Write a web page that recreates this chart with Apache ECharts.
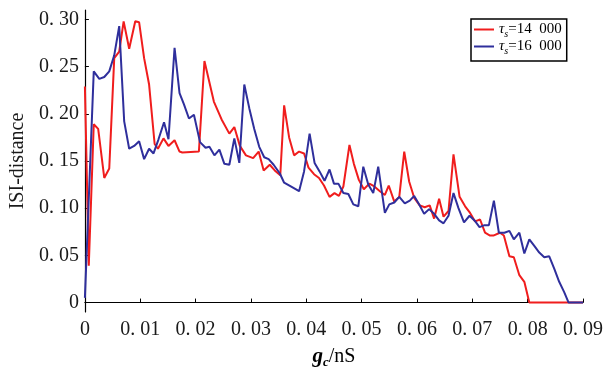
<!DOCTYPE html>
<html>
<head>
<meta charset="utf-8">
<script src="https://cdn.jsdelivr.net/npm/echarts@6/dist/echarts.min.js"></script>
<style>html,body{margin:0;padding:0;background:#fff}#c{width:606px;height:374px}</style>
</head>
<body>
<div id="c"></div>
<script>
const seriesNames = ['14\u2002000', '16\u2002000'];
const xTicks = [0, 0.01, 0.02, 0.03, 0.04, 0.05, 0.06, 0.07, 0.08, 0.09];
const yTicks = [0, 0.05, 0.10, 0.15, 0.20, 0.25, 0.30];

const redX = [0,0.0007,0.0016,0.0024,0.0035,0.0044,0.0053,0.0062,0.0070,0.0080,
0.0091,0.0098,0.0107,0.0116,0.0126,0.0132,0.0142,0.0151,0.0162,0.0171,
0.0176,0.0206,0.0216,0.0233,0.0247,0.0261,0.0270,0.0280,0.0291,0.0304,
0.0314,0.0323,0.0334,0.0343,0.0353,0.0360,0.0369,0.0378,0.0387,0.0396,
0.0404,0.0414,0.0423,0.0432,0.0442,0.0451,0.0459,0.0467,0.0478,0.0486,
0.0495,0.0504,0.0514,0.0523,0.0533,0.0542,0.0549,0.0559,0.0568,0.0577,
0.0586,0.0595,0.0605,0.0614,0.0623,0.0631,0.0640,0.0648,0.0657,0.0666,
0.0677,0.0687,0.0696,0.0705,0.0714,0.0723,0.0732,0.0738,0.0750,0.0757,
0.0767,0.0775,0.0785,0.0794,0.0803,0.0900];
const redY = [0.229,0.039,0.189,0.184,0.132,0.142,0.259,0.266,0.298,0.269,
0.298,0.297,0.259,0.231,0.168,0.163,0.174,0.166,0.172,0.160,
0.159,0.160,0.256,0.213,0.194,0.179,0.186,0.166,0.156,0.153,
0.160,0.140,0.146,0.140,0.135,0.209,0.175,0.156,0.160,0.158,
0.143,0.136,0.132,0.124,0.112,0.116,0.113,0.123,0.167,0.147,
0.130,0.120,0.126,0.123,0.118,0.114,0.124,0.107,0.112,0.160,
0.128,0.111,0.103,0.101,0.103,0.089,0.110,0.091,0.097,0.157,
0.112,0.102,0.095,0.086,0.088,0.074,0.071,0.071,0.074,0.071,
0.049,0.048,0.029,0.022,0,0];

const blueX = [0,0.0016,0.0026,0.0035,0.0044,0.0053,0.0062,0.0071,0.0080,0.0089,
0.0098,0.0107,0.0116,0.0124,0.0133,0.0143,0.0151,0.0162,0.0171,0.0179,
0.0188,0.0197,0.0208,0.0218,0.0225,0.0234,0.0243,0.0252,0.0261,0.0270,
0.0279,0.0288,0.0297,0.0306,0.0315,0.0324,0.0332,0.0341,0.0352,0.0360,
0.0372,0.0387,0.0396,0.0406,0.0415,0.0424,0.0433,0.0442,0.0450,0.0458,
0.0467,0.0476,0.0485,0.0494,0.0503,0.0512,0.0521,0.0530,0.0542,0.0550,
0.0559,0.0568,0.0578,0.0587,0.0595,0.0604,0.0613,0.0622,0.0631,0.0640,
0.0648,0.0657,0.0666,0.0675,0.0685,0.0695,0.0704,0.0713,0.0722,0.0730,
0.0739,0.0748,0.0758,0.0767,0.0775,0.0785,0.0794,0.0803,0.0812,0.0821,
0.0830,0.0839,0.0848,0.0857,0.0866,0.0874,0.0900];
const blueY = [0.005,0.245,0.237,0.239,0.245,0.262,0.293,0.192,0.163,0.166,
0.171,0.152,0.163,0.158,0.173,0.191,0.173,0.270,0.222,0.210,
0.195,0.199,0.170,0.164,0.165,0.156,0.162,0.147,0.146,0.174,
0.148,0.231,0.206,0.184,0.165,0.154,0.152,0.146,0.137,0.127,
0.123,0.118,0.139,0.179,0.148,0.139,0.129,0.141,0.126,0.126,
0.116,0.115,0.104,0.102,0.144,0.125,0.116,0.144,0.095,0.104,
0.106,0.112,0.105,0.108,0.113,0.104,0.094,0.099,0.094,0.087,
0.084,0.092,0.116,0.100,0.085,0.092,0.087,0.080,0.082,0.082,
0.108,0.074,0.074,0.076,0.067,0.074,0.052,0.067,0.060,0.053,
0.048,0.049,0.036,0.022,0.011,0,0];

const FONT = 'Liberation Serif';
const fmt = v => (Math.abs(v) < 1e-9 ? '0' : v.toFixed(2).replace('.', '. '));
const pairs = (xs, ys) => xs.map((x, i) => [x, ys[i]]);

const chart = echarts.init(document.getElementById('c'), null, {renderer: 'canvas'});
chart.setOption({
  animation: false,
  backgroundColor: '#fff',
  grid: {left: 79.5, right: 21.5, top: 10, bottom: 57.3, containLabel: false},
  legend: {
    orient: 'vertical',
    left: 471, top: 19,
    itemWidth: 20, itemHeight: 2, itemGap: 0,
    padding: [3, 5, 5, 3],
    borderColor: '#000', borderWidth: 1.5,
    icon: 'rect',
    data: seriesNames,
    formatter: n => '{t|τ}{s|s}{n|=' + n + '}',
    textStyle: {
      fontFamily: FONT, color: '#000', fontSize: 15,
      rich: {
        t: {fontFamily: FONT, fontSize: 15, fontStyle: 'italic', lineHeight: 19},
        s: {fontFamily: FONT, fontSize: 10, fontStyle: 'italic', verticalAlign: 'bottom', lineHeight: 19},
        n: {fontFamily: FONT, fontSize: 15, lineHeight: 19}
      }
    }
  },
  xAxis: {
    type: 'value', min: 0, max: 0.09, interval: 0.01,
    name: '{g|g}{c|c}{r|/nS}',
    nameLocation: 'middle', nameGap: 33,
    nameTextStyle: {
      fontFamily: FONT, fontSize: 20, color: '#000',
      rich: {
        g: {fontFamily: FONT, fontSize: 21, fontWeight: 'bold', fontStyle: 'italic', lineHeight: 24},
        c: {fontFamily: FONT, fontSize: 13, fontWeight: 'bold', fontStyle: 'italic', verticalAlign: 'bottom', lineHeight: 24},
        r: {fontFamily: FONT, fontSize: 20, lineHeight: 24}
      }
    },
    splitLine: {show: false},
    axisLine: {lineStyle: {color: '#000', width: 1.2}},
    axisTick: {inside: true, length: 4, lineStyle: {color: '#000'}},
    axisLabel: {fontFamily: FONT, fontSize: 20, color: '#1a1a1a', margin: 8, formatter: fmt}
  },
  yAxis: {
    type: 'value', min: -0.01, max: 0.31,
    name: 'ISI-distance',
    nameLocation: 'middle', nameGap: 55,
    nameTextStyle: {fontFamily: FONT, fontSize: 20, color: '#1a1a1a'},
    splitLine: {show: false},
    axisLine: {onZero: false, lineStyle: {color: '#000', width: 1.2}},
    axisTick: {inside: true, length: 4, customValues: yTicks, lineStyle: {color: '#000'}},
    axisLabel: {fontFamily: FONT, fontSize: 20, color: '#1a1a1a', margin: 6, customValues: yTicks, formatter: fmt}
  },
  series: [
    {name: seriesNames[0], type: 'line', data: pairs(redX, redY), showSymbol: false,
     lineStyle: {color: '#f01d1d', width: 2}, itemStyle: {color: '#f01d1d'}},
    {name: seriesNames[1], type: 'line', data: pairs(blueX, blueY), showSymbol: false,
     lineStyle: {color: '#2f2f9c', width: 2}, itemStyle: {color: '#2f2f9c'}}
  ]
});
</script>
</body>
</html>
